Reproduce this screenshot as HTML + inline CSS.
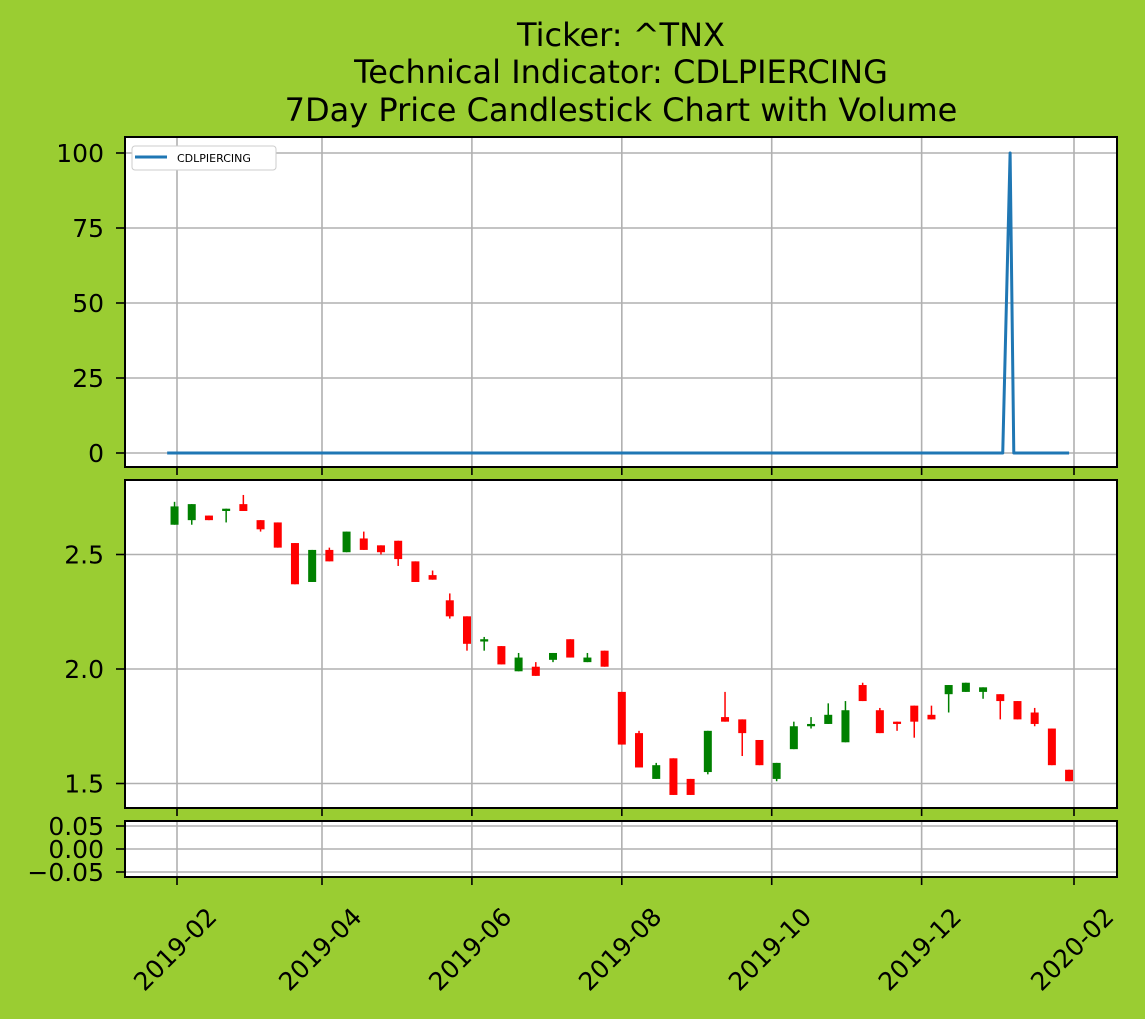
<!DOCTYPE html>
<html><head><meta charset="utf-8"><style>
body{margin:0;background:#9acd32;}
svg{display:block;font-family:"DejaVu Sans","Liberation Sans",sans-serif;}
</style></head><body>
<svg id="chart" width="1145" height="1019" xmlns="http://www.w3.org/2000/svg">
<rect width="1145" height="1019" fill="#9acd32"/>
<text x="621" y="46" font-size="32" text-anchor="middle">Ticker: ^TNX</text>
<text x="621" y="83" font-size="32" text-anchor="middle">Technical Indicator: CDLPIERCING</text>
<text x="621" y="121" font-size="32" text-anchor="middle">7Day Price Candlestick Chart with Volume</text>
<g id="g1"></g><g id="g2"></g><g id="g3"></g><g id="gx"></g>
</svg>
<script>
// Indicator line (days from 2019-02-01)
const lineDays=[-4,336,339,340.5,363];
const lineVals=[0,0,100,0,0];
// Weekly candles
const candleOpen=[2.63,2.65,2.67,2.69,2.72,2.65,2.64,2.55,2.38,2.52,2.51,2.57,2.54,2.56,2.47,2.41,2.30,2.23,2.12,2.10,1.99,2.01,2.04,2.13,2.03,2.08,1.90,1.72,1.52,1.61,1.52,1.55,1.79,1.78,1.69,1.52,1.65,1.75,1.76,1.68,1.93,1.82,1.77,1.84,1.80,1.89,1.90,1.90,1.89,1.86,1.81,1.74,1.56];
const candleHigh=[2.73,2.72,2.67,2.70,2.76,2.65,2.64,2.55,2.52,2.53,2.60,2.60,2.54,2.56,2.47,2.43,2.33,2.23,2.14,2.10,2.07,2.03,2.07,2.13,2.07,2.08,1.90,1.73,1.59,1.61,1.52,1.73,1.90,1.78,1.69,1.59,1.77,1.79,1.85,1.86,1.94,1.83,1.77,1.84,1.84,1.93,1.94,1.92,1.89,1.86,1.83,1.74,1.56];
const candleLow=[2.63,2.63,2.65,2.64,2.69,2.60,2.53,2.37,2.38,2.47,2.51,2.52,2.50,2.45,2.38,2.39,2.22,2.08,2.08,2.02,1.99,1.97,2.03,2.05,2.03,2.01,1.67,1.57,1.52,1.45,1.45,1.54,1.77,1.62,1.58,1.51,1.65,1.74,1.76,1.68,1.86,1.72,1.73,1.70,1.78,1.81,1.90,1.87,1.78,1.78,1.75,1.58,1.51];
const candleClose=[2.71,2.72,2.65,2.70,2.69,2.61,2.53,2.37,2.52,2.47,2.60,2.52,2.51,2.48,2.38,2.39,2.23,2.11,2.13,2.02,2.05,1.97,2.07,2.05,2.05,2.01,1.67,1.57,1.58,1.45,1.45,1.73,1.77,1.72,1.58,1.59,1.75,1.76,1.80,1.82,1.86,1.72,1.76,1.77,1.78,1.93,1.94,1.92,1.86,1.78,1.76,1.58,1.51];
const xTickLabels=["2019-02","2019-04","2019-06","2019-08","2019-10","2019-12","2020-02"];
const xTickDays=[0,59,120,181,242,303,365];
const y1Ticks=[0,25,50,75,100];
const y2Ticks=[1.5,2.0,2.5];
const y2Labels=["1.5","2.0","2.5"];
const y3Ticks=[-0.05,0,0.05];
const y3Labels=["\u22120.05","0.00","0.05"];

const NS="http://www.w3.org/2000/svg";
const L=125,R=1117;
const xs=d=>177+d*(1074-177)/365;
const y1=v=>453-v*3;
const y2=v=>669-(v-2)*229;
const y3=v=>849-v*460;
function mk(p,tag,a){const e=document.createElementNS(NS,tag);for(const k in a)e.setAttribute(k,a[k]);p.appendChild(e);return e;}

function panel(g,top,bot,name){
  const bg=mk(g,'rect',{x:L,y:top,width:R-L,height:bot-top,fill:'#fff'});
  
  
  xTickDays.forEach(d=>{
    const gl=mk(g,'line',{x1:xs(d),x2:xs(d),y1:top,y2:bot,stroke:'#b0b0b0','stroke-width':1.6});
    
    
    const tk=mk(g,'line',{x1:xs(d),x2:xs(d),y1:bot,y2:bot+8,stroke:'#000','stroke-width':1.6});
    
    
  });
}
function frame(g,top,bot,name){
  const f=mk(g,'rect',{x:L,y:top,width:R-L,height:bot-top,fill:'none',stroke:'#000','stroke-width':2});
  
  
}
function yaxis(g,ticks,labels,fy,top,bot,name,fs){
  ticks.forEach((v,i)=>{
    const y=fy(v);
    const gl=mk(g,'line',{x1:L,x2:R,y1:y,y2:y,stroke:'#b0b0b0','stroke-width':1.6});
    
    
    const tk=mk(g,'line',{x1:L-9,x2:L,y1:y,y2:y,stroke:'#000','stroke-width':1.6});
    
    
    const t=mk(g,'text',{x:L-21,y:y+9,'font-size':fs,'text-anchor':'end'});
    t.textContent=labels[i];
    
    
  });
}
// Panel 1
const g1=document.getElementById('g1');
panel(g1,137,467,'indicator');
yaxis(g1,y1Ticks,y1Ticks.map(String),y1,137,467,'indicator',25);
const pts=lineDays.map((d,i)=>xs(d)+','+y1(lineVals[i])).join(' ');
const pl=mk(g1,'polyline',{points:pts,fill:'none',stroke:'#1f77b4','stroke-width':3,'stroke-linejoin':'round'});


frame(g1,137,467,'indicator');
const lg=mk(g1,'g',{});


mk(lg,'rect',{x:132,y:146,width:144,height:24,rx:3,fill:'#fff',stroke:'#ccc'});
const ll=mk(lg,'line',{x1:135,x2:167,y1:157,y2:157,stroke:'#1f77b4','stroke-width':3});


const lt=mk(lg,'text',{x:177,y:162,'font-size':11});
lt.textContent='CDLPIERCING';


// Panel 2
const g2=document.getElementById('g2');
panel(g2,480,808,'price');
yaxis(g2,y2Ticks,y2Labels,y2,480,808,'price',25);
candleOpen.forEach((o,i)=>{
  const c=candleClose[i],x=xs(-1+7*i),col=c>=o?'#008000':'#ff0000';
  const w=mk(g2,'line',{x1:x,x2:x,y1:y2(candleHigh[i]),y2:y2(candleLow[i]),stroke:col,'stroke-width':1.5});
  
  
  const top=y2(Math.max(o,c)),h=Math.max(1.5,y2(Math.min(o,c))-top);
  const b=mk(g2,'rect',{x:x-4,y:top,width:8,height:h,fill:col});
  
  
});
frame(g2,480,808,'price');
// Panel 3
const g3=document.getElementById('g3');
panel(g3,821,877,'volume');
yaxis(g3,y3Ticks,y3Labels,y3,821,877,'volume',25);
frame(g3,821,877,'volume');
// X labels
const gx=document.getElementById('gx');
xTickLabels.forEach((s,i)=>{
  const x=xs(xTickDays[i])-2;
  const t=mk(gx,'text',{x:x,y:958,'font-size':25,'text-anchor':'middle',transform:`rotate(-45 ${x} 949)`});
  t.textContent=s;
  
  
});
</script>
</body></html>
